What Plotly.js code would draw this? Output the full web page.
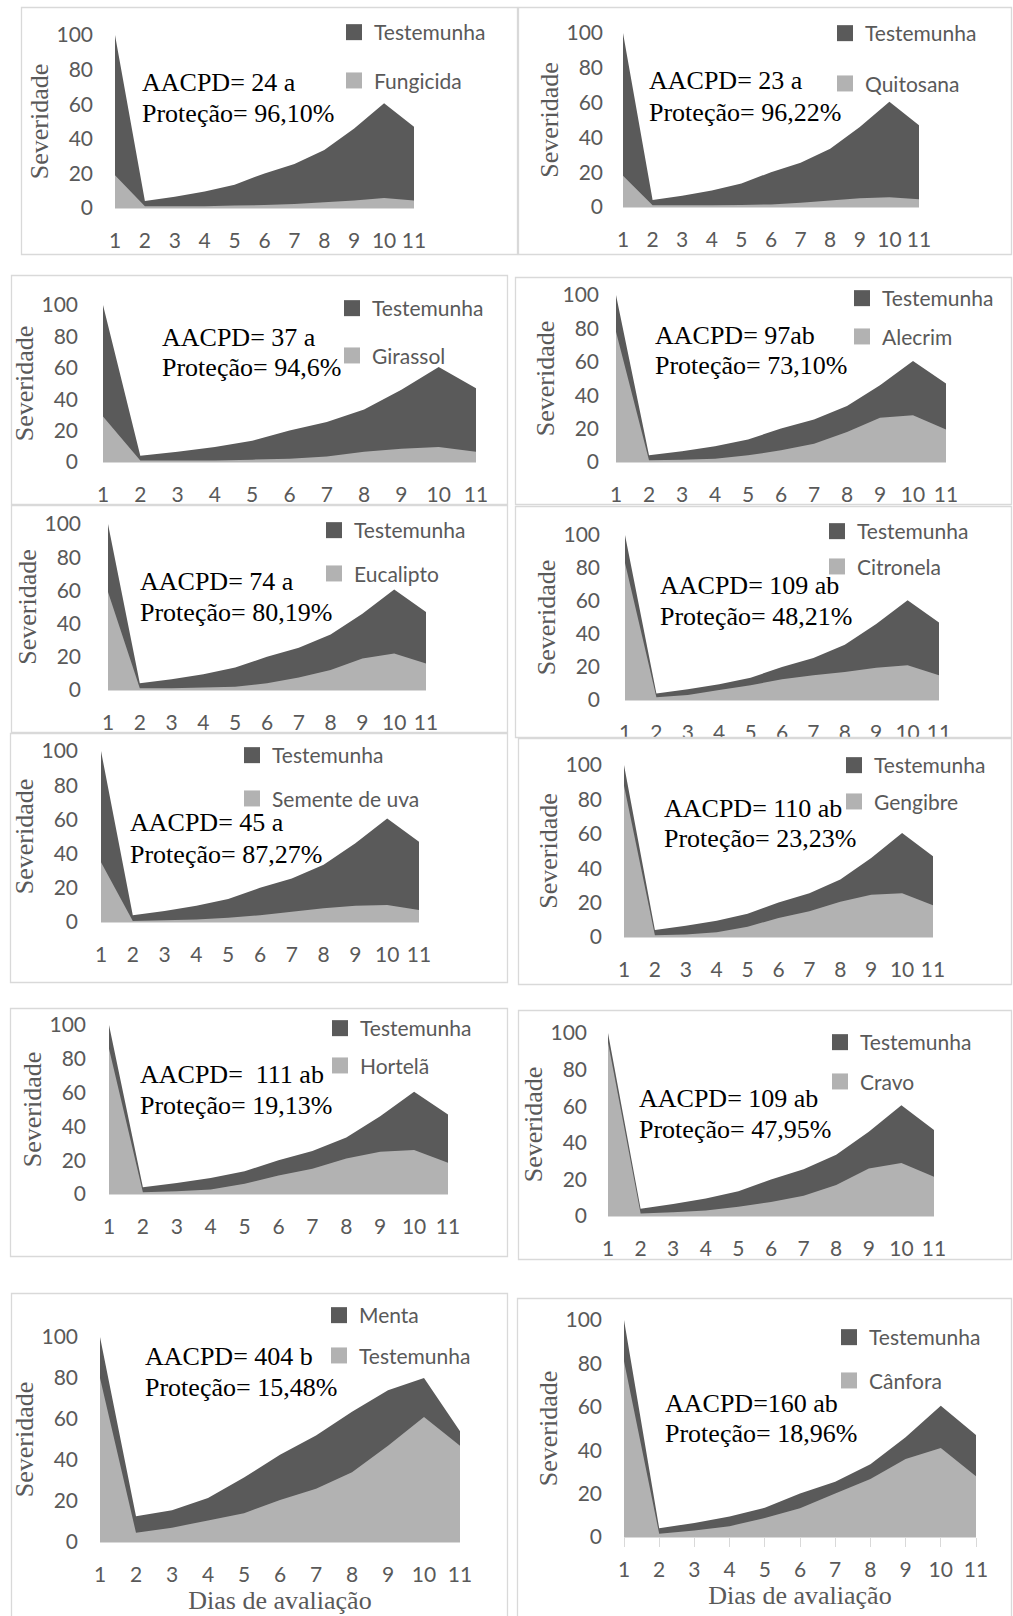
<!DOCTYPE html>
<html><head><meta charset="utf-8">
<script src="https://cdn.plot.ly/plotly-3.0.1.min.js"></script>
<style>html,body{margin:0;padding:0;background:#fff}#chart{width:1013px;height:1616px}</style>
</head><body><div id="chart"></div>
<script>
// ---------------- DATA ----------------
const dias = [1, 2, 3, 4, 5, 6, 7, 8, 9, 10, 11];
const rotulosDias = ['1', '2', '3', '4', '5', '6', '7', '8', '9', '10', '11'];
const severidadeTicks = [0, 20, 40, 60, 80, 100];
const rotulosSeveridade = ['0', '20', '40', '60', '80', '100'];

const testemunha = [100, 4, 6.5, 9.5, 13.5, 20, 25.5, 33.5, 46, 60.5, 47];
const fungicida = [19, 1, 1, 1, 1.4, 1.7, 2.3, 3.3, 4.3, 5.8, 4.3];
const quitosana = [18, 1, 1, 1, 1.2, 1.5, 2.5, 3.8, 5, 5.6, 4.4];
const girassol = [29, 1, 1, 1, 1.5, 2, 3.5, 6.5, 8.5, 9.5, 6.5];
const alecrim = [78, 1, 1.4, 2, 4, 7, 11, 18, 26.5, 28, 19.5];
const eucalipto = [59, 1, 1, 1.5, 2, 4, 7.5, 12, 19, 22, 16];
const citronela = [83, 1.6, 3, 6, 9, 12.5, 15, 17, 19.5, 21, 15];
const sementeDeUva = [35, 0.6, 1, 1.5, 2.5, 4, 6, 8, 9.5, 10, 7];
const gengibre = [88, 1, 1.4, 2.7, 6, 11, 15, 20.5, 24.5, 25.5, 18.5];
const hortela = [86, 1, 1.6, 2.6, 6, 11, 15, 21, 25, 26, 18.5];
const cravo = [95, 1.3, 2, 3, 5, 7.7, 11, 17, 26, 29, 21.5];
const menta = [100, 12.5, 15.5, 21.5, 31.5, 42.5, 52, 63.5, 74, 80, 54];
const testemunhaMenta = [80, 4.5, 7, 10.5, 14, 20.5, 26, 34, 47, 61, 47];
const canfora = [81, 1.5, 3, 5, 8.7, 13.3, 20, 26.7, 36, 41, 28];

const nomesEscuros = ['Testemunha', 'Testemunha', 'Testemunha', 'Testemunha', 'Testemunha', 'Testemunha',
  'Testemunha', 'Testemunha', 'Testemunha', 'Testemunha', 'Menta', 'Testemunha'];
const nomesClaros = ['Fungicida', 'Quitosana', 'Girassol', 'Alecrim', 'Eucalipto', 'Citronela',
  'Semente de uva', 'Gengibre', 'Hortelã', 'Cravo', 'Testemunha', 'Cânfora'];
const valoresEscuros = [testemunha, testemunha, testemunha, testemunha, testemunha, testemunha,
  testemunha, testemunha, testemunha, testemunha, menta, testemunha];
const valoresClaros = [fungicida, quitosana, girassol, alecrim, eucalipto, citronela,
  sementeDeUva, gengibre, hortela, cravo, testemunhaMenta, canfora];
const textoAACPD = ['AACPD= 24 a', 'AACPD= 23 a', 'AACPD= 37 a', 'AACPD= 97ab', 'AACPD= 74 a', 'AACPD= 109 ab',
  'AACPD= 45 a', 'AACPD= 110 ab', 'AACPD=\u00a0 111 ab', 'AACPD= 109 ab', 'AACPD= 404 b', 'AACPD=160 ab'];
const textoProtecao = ['Proteção= 96,10%', 'Proteção= 96,22%', 'Proteção= 94,6%', 'Proteção= 73,10%',
  'Proteção= 80,19%', 'Proteção= 48,21%', 'Proteção= 87,27%', 'Proteção= 23,23%', 'Proteção= 19,13%',
  'Proteção= 47,95%', 'Proteção= 15,48%', 'Proteção= 18,96%'];
const tituloY = 'Severidade';
const tituloX = 'Dias de avaliação';

// ---------------- LAYOUT GEOMETRY (pixels) ----------------
const W = 1013, H = 1616;
const geo = [
  {box: [21, 7, 518, 255], xp: [115, 414], yp: [208, 35], lab: 23, leg: [377, 32, 82], ann: [140, 82, 113]},
  {box: [518, 7, 1012, 255], xp: [623, 919], yp: [207, 33], lab: 21, leg: [868, 33, 85], ann: [647, 81, 112]},
  {box: [11, 275, 508, 505], xp: [103, 476], yp: [462, 305], lab: 26, leg: [375, 308, 357], ann: [160, 337, 368]},
  {box: [515, 277, 1012, 505], xp: [616, 946], yp: [462, 295], lab: 18, leg: [885, 298, 338], ann: [653, 335, 366]},
  {box: [11, 505, 508, 733], xp: [108, 426], yp: [690, 524], lab: 28, leg: [357, 530, 575], ann: [138, 581, 612]},
  {box: [515, 506, 1012, 738], xp: [625, 939], yp: [700, 535], lab: 26, leg: [860, 531, 568], ann: [658, 585, 616]},
  {box: [10, 733, 508, 983], xp: [101, 419], yp: [922, 751], lab: 24, leg: [275, 755, 800], ann: [128, 823, 854]},
  {box: [518, 738, 1012, 985], xp: [624, 933], yp: [937, 765], lab: 23, leg: [877, 765, 803], ann: [662, 808, 839]},
  {box: [10, 1008, 508, 1257], xp: [109, 448], yp: [1194, 1025], lab: 24, leg: [363, 1028, 1067], ann: [138, 1074, 1105]},
  {box: [518, 1010, 1012, 1260], xp: [608, 934], yp: [1216, 1033], lab: 22, leg: [863, 1042, 1083], ann: [637, 1098, 1129]},
  {box: [11, 1293, 508, 1640], xp: [100, 460], yp: [1542, 1337], lab: 23, leg: [362, 1315, 1357], ann: [143, 1356, 1387]},
  {box: [517, 1298, 1012, 1640], xp: [624, 976], yp: [1537, 1320], lab: 23, leg: [872, 1337, 1382], ann: [663, 1403, 1433]}
];

const ESCURO = '#5a5a5a', CLARO = '#b2b2b2', CINZA = '#595959', BORDA = '#d9d9d9';
const FONTE_SANS = 'Lato, "Open Sans", sans-serif';
const FONTE_SERIF = '"Liberation Serif", "DejaVu Serif", serif';

const data = [];
const layout = {
  width: W, height: H, margin: {l: 0, r: 0, t: 0, b: 0},
  paper_bgcolor: '#ffffff', plot_bgcolor: 'rgba(0,0,0,0)',
  showlegend: true, annotations: [], shapes: []
};

const px = v => v / W;
const py = v => 1 - v / H;

geo.forEach((g, i) => {
  const n = i + 1;
  const sfx = n === 1 ? '' : String(n);
  const xid = 'x' + sfx, yid = 'y' + sfx, legId = 'legend' + sfx;
  const comEixoX = (n >= 11);
  const comTicks = (n === 12);

  data.push({type: 'scatter', x: dias, y: valoresEscuros[i], xaxis: xid, yaxis: yid, mode: 'none',
    fill: 'tozeroy', fillcolor: ESCURO, name: nomesEscuros[i], showlegend: false, hoverinfo: 'skip'});
  data.push({type: 'scatter', x: dias, y: valoresClaros[i], xaxis: xid, yaxis: yid, mode: 'none',
    fill: 'tozeroy', fillcolor: CLARO, name: nomesClaros[i], showlegend: false, hoverinfo: 'skip'});
  // legend entries (square keys like the original)
  data.push({type: 'scatter', x: [null], y: [null], xaxis: xid, yaxis: yid, mode: 'markers',
    marker: {symbol: 'square', size: 16, color: ESCURO}, name: nomesEscuros[i],
    legend: legId, legendgroup: 'e' + n, showlegend: true, hoverinfo: 'skip'});
  data.push({type: 'scatter', x: [null], y: [null], xaxis: xid, yaxis: yid, mode: 'markers',
    marker: {symbol: 'square', size: 16, color: CLARO}, name: nomesClaros[i],
    legend: legId, legendgroup: 'c' + n, showlegend: true, hoverinfo: 'skip'});

  layout['xaxis' + sfx] = {
    domain: [px(g.xp[0]), px(g.xp[1])], anchor: yid, range: [1, 11], fixedrange: true,
    tickmode: 'array', tickvals: dias, ticktext: rotulosDias,
    showgrid: false, zeroline: false, showline: true, linecolor: BORDA, linewidth: 1,
    ticks: comTicks ? 'outside' : '', ticklen: 9, tickcolor: BORDA,
    ticklabelstandoff: comTicks ? 5 : 14,
    tickfont: {family: FONTE_SANS, size: 21, color: CINZA},
    title: comEixoX ? {text: tituloX, standoff: 0, font: {family: FONTE_SERIF, size: 26, color: CINZA}} : {text: ''}
  };
  layout['yaxis' + sfx] = {
    domain: [py(g.yp[0]), py(g.yp[1])], anchor: xid, range: [0, 100], fixedrange: true,
    tickmode: 'array', tickvals: severidadeTicks, ticktext: rotulosSeveridade,
    showgrid: false, zeroline: false, showline: false, ticks: '',
    ticklabelstandoff: Math.max(0, g.lab - 2),
    tickfont: {family: FONTE_SANS, size: 21, color: CINZA},
    title: {text: tituloY, standoff: 0, font: {family: FONTE_SERIF, size: 26, color: CINZA}}
  };
  layout[legId] = {
    x: px(g.leg[0] - 43), y: py(g.leg[1] - 20), xanchor: 'left', yanchor: 'top',
    bgcolor: 'rgba(0,0,0,0)', borderwidth: 0, orientation: 'v',
    font: {family: FONTE_SANS, size: 21, color: CINZA},
    tracegroupgap: Math.max(0, (g.leg[2] - g.leg[1]) - 32), traceorder: 'grouped'
  };
  layout.annotations.push({xref: 'paper', yref: 'paper', x: px(g.ann[0]), y: py(g.ann[1]),
    xanchor: 'left', yanchor: 'middle', showarrow: false, text: textoAACPD[i],
    font: {family: FONTE_SERIF, size: 26, color: '#000000'}});
  layout.annotations.push({xref: 'paper', yref: 'paper', x: px(g.ann[0]), y: py(g.ann[2]),
    xanchor: 'left', yanchor: 'middle', showarrow: false, text: textoProtecao[i],
    font: {family: FONTE_SERIF, size: 26, color: '#000000'}});
});

// the Gengibre panel overlaps the bottom of the Citronela panel (cuts its x labels)
layout.shapes.push({type: 'rect', xref: 'paper', yref: 'paper', layer: 'above',
  x0: px(516), x1: px(1011), y0: py(738.5), y1: py(752), fillcolor: '#ffffff', line: {width: 0}});
geo.forEach(g => {
  layout.shapes.push({type: 'rect', xref: 'paper', yref: 'paper', layer: 'above',
    x0: px(g.box[0] + 0.5), x1: px(g.box[2] - 0.5), y0: py(g.box[1] + 0.5), y1: py(g.box[3] - 0.5),
    line: {color: BORDA, width: 1.3}, fillcolor: 'rgba(0,0,0,0)'});
});

Plotly.newPlot('chart', data, layout, {displayModeBar: false, responsive: false});
</script>
</body></html>
